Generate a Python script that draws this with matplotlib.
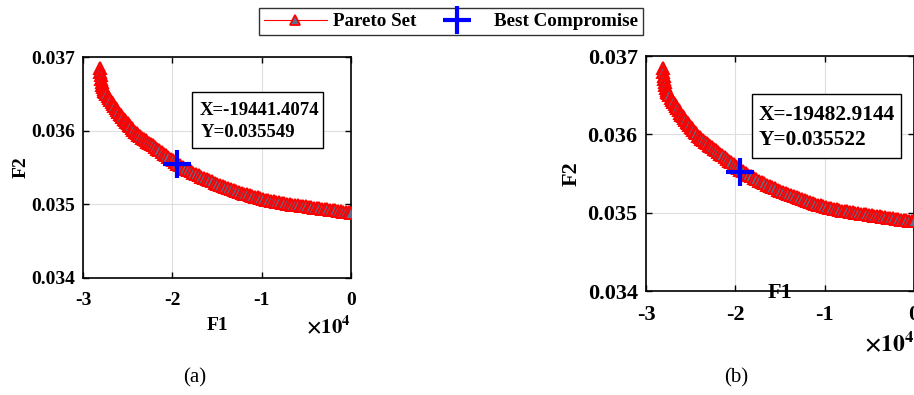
import matplotlib
matplotlib.use("Agg")
import matplotlib.pyplot as plt
from matplotlib.lines import Line2D
from matplotlib.patches import Rectangle
from matplotlib.ticker import FixedLocator, FuncFormatter

plt.rcParams["font.family"] = ["Liberation Serif", "DejaVu Serif"]
plt.rcParams["font.weight"] = "bold"
plt.rcParams["mathtext.fontset"] = "stix"

# Pareto front (F1, F2)
pareto_f1 = [
    -28100, -28050, -28000, -27950, -27900, -27840, -27770, -27700, -27620, -27540,
    -27400, -27250, -27100, -26950, -26800, -26650, -26500, -26350, -26200, -26050,
    -25900, -25750, -25600, -25450, -25300, -25150, -25000, -24850, -24700, -24550,
    -24400, -24200, -24000, -23800, -23600, -23400, -23200, -23000, -22800, -22600,
    -22400, -22200, -21950, -21700, -21450, -21200, -20950, -20700, -20450, -20200,
    -19950, -19700, -19441, -19150, -18850, -18550, -18250, -17950, -17650, -17350,
    -17050, -16750, -16450, -16150, -15850, -15550, -15250, -14950, -14650, -14350,
    -14050, -13750, -13450, -13150, -12850, -12550, -12250, -11950, -11650, -11350,
    -11050, -10750, -10450, -10150, -9850, -9550, -9250, -8950, -8650, -8350,
    -8050, -7750, -7450, -7150, -6850, -6550, -6250, -5950, -5650, -5350,
    -5050, -4750, -4450, -4150, -3850, -3550, -3250, -2950, -2650, -2350,
    -2050, -1750, -1450, -1150, -850, -550, -250, -50,
]
pareto_f2 = [
    0.036850, 0.036800, 0.036750, 0.036705, 0.036665, 0.036625, 0.036590, 0.036560, 0.036540, 0.036525,
    0.036497, 0.036468, 0.036440, 0.036413, 0.036386, 0.036360, 0.036334, 0.036306, 0.036277, 0.036250,
    0.036228, 0.036206, 0.036184, 0.036162, 0.036141, 0.036120, 0.036099, 0.036078, 0.036057, 0.036036,
    0.036015, 0.035985, 0.035964, 0.035944, 0.035925, 0.035906, 0.035888, 0.035870, 0.035852, 0.035834,
    0.035817, 0.035800, 0.035777, 0.035754, 0.035731, 0.035708, 0.035686, 0.035664, 0.035642, 0.035620,
    0.035597, 0.035573, 0.035549, 0.035528, 0.035507, 0.035486, 0.035466, 0.035446, 0.035427, 0.035408,
    0.035392, 0.035375, 0.035358, 0.035342, 0.035326, 0.035310, 0.035294, 0.035278, 0.035263, 0.035248,
    0.035234, 0.035220, 0.035207, 0.035194, 0.035182, 0.035170, 0.035158, 0.035147, 0.035136, 0.035125,
    0.035114, 0.035103, 0.035093, 0.035083, 0.035073, 0.035064, 0.035056, 0.035048, 0.035041, 0.035034,
    0.035027, 0.035021, 0.035015, 0.035009, 0.035003, 0.034997, 0.034992, 0.034987, 0.034982, 0.034977,
    0.034972, 0.034967, 0.034962, 0.034957, 0.034952, 0.034947, 0.034942, 0.034937, 0.034932, 0.034927,
    0.034922, 0.034917, 0.034912, 0.034907, 0.034902, 0.034897, 0.034892, 0.034888,
]

best_a = (-19441.4074, 0.035549)
best_b = (-19482.9144, 0.035522)

x_ticks = [-30000, -20000, -10000, 0]
y_ticks = [0.034, 0.035, 0.036, 0.037]

W, H = 914, 395
fig = plt.figure(figsize=(W / 100, H / 100), dpi=100)

MARKER_FACE = "#5d6f8c"


def draw_panel(rect, best, fs, box_fs, box, text_x, text_y, f1_xy, mult_xy, f2_x):
    ax = fig.add_axes(rect)
    ax.plot(pareto_f1, pareto_f2, color="red", lw=0.8, marker="^", ms=8,
            mfc=MARKER_FACE, mec="red", mew=1.4, zorder=3)
    ax.plot([best[0]], [best[1]], ls="none", marker="+", ms=20, mew=3,
            color="blue", zorder=4)

    ax.set_xlim(-30000, 0)
    ax.set_ylim(0.034, 0.037)
    ax.xaxis.set_major_locator(FixedLocator(x_ticks))
    ax.yaxis.set_major_locator(FixedLocator(y_ticks))
    ax.xaxis.set_major_formatter(FuncFormatter(lambda v, p: f"{v / 1e4:g}"))
    ax.yaxis.set_major_formatter(FuncFormatter(lambda v, p: f"{v:.3f}"))
    ax.tick_params(direction="in", length=4, width=1, top=True, right=True,
                   labelsize=fs)
    ax.tick_params(axis="x", pad=10)
    ax.tick_params(axis="y", pad=6)
    ax.grid(True, color="#dedede", lw=0.8)
    ax.set_axisbelow(True)
    for s in ax.spines.values():
        s.set_linewidth(1.2)

    ax.set_xlabel("F1", fontsize=fs, fontweight="bold")
    ax.xaxis.set_label_coords(*f1_xy)
    ax.set_ylabel("F2", fontsize=fs, fontweight="bold")
    ax.yaxis.set_label_coords(f2_x, 0.5)

    ax.text(mult_xy[0], mult_xy[1], r"$\mathbf{\times 10^{4}}$", transform=ax.transAxes,
            fontsize=fs + 1, ha="right", va="center")

    # data-tip style box for the chosen solution
    ax.add_patch(Rectangle(box[:2], box[2], box[3], transform=ax.transAxes,
                           fc="white", ec="black", lw=1, zorder=5))
    ax.text(text_x, text_y[0], f"X={best[0]:.4f}", transform=ax.transAxes,
            fontsize=box_fs, fontweight="bold", ha="left", va="center", zorder=6)
    ax.text(text_x, text_y[1], f"Y={best[1]:.6f}", transform=ax.transAxes,
            fontsize=box_fs, fontweight="bold", ha="left", va="center", zorder=6)
    return ax


draw_panel([83 / W, 1 - 278 / H, 268 / W, 221 / H], best_a, 14, 13.5,
           (0.4067, 0.588, 0.4888, 0.2534), 0.437, (0.758, 0.659),
           (0.5, -0.177), (1.0, -0.22), -0.20)
draw_panel([646 / W, 1 - 291 / H, 268 / W, 235 / H], best_b, 16, 15.4,
           (0.3955, 0.566, 0.556, 0.272), 0.419, (0.747, 0.641),
           (0.5, 0.034), (1.0, -0.225), -0.239)

fig.text(195 / W, 1 - 378 / H, "(a)", fontsize=15, fontweight="normal",
         ha="center", va="center")
fig.text(736 / W, 1 - 378 / H, "(b)", fontsize=15, fontweight="normal",
         ha="center", va="center")

handles = [
    Line2D([], [], color="red", lw=0.8, marker="^", ms=7, mfc=MARKER_FACE,
           mec="red", mew=1.3),
    Line2D([], [], ls="none", marker="+", ms=20, mew=3, color="blue"),
]
leg = fig.legend(handles, ["Pareto Set", "Best Compromise"], ncol=2,
                 loc="center", bbox_to_anchor=(451 / W, 1 - 21.5 / H),
                 prop={"size": 13.7, "weight": "bold"}, frameon=True,
                 fancybox=False, edgecolor="black", handlelength=3.3,
                 columnspacing=0.5, borderpad=0.25, handletextpad=0.3,
                 borderaxespad=0)
leg.get_frame().set_linewidth(1)

fig.savefig("out.png", dpi=100)
